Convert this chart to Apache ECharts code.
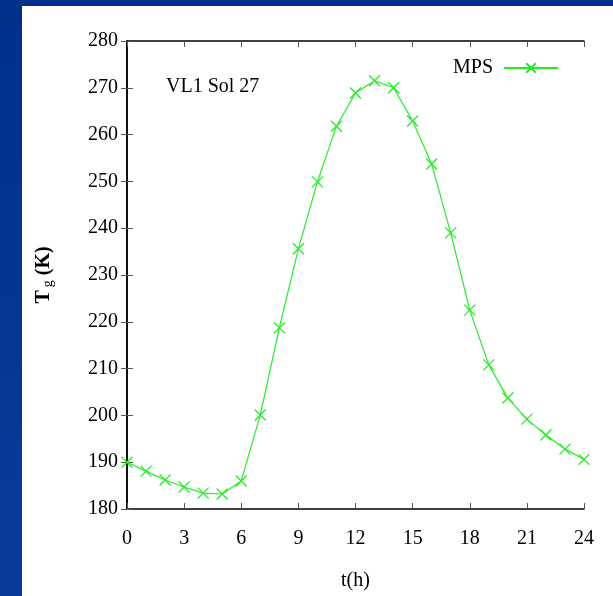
<!DOCTYPE html>
<html><head><meta charset="utf-8">
<script src="https://cdn.jsdelivr.net/npm/echarts@6/dist/echarts.min.js"></script>
<style>html,body{margin:0;padding:0;background:#0a3290;}#c{width:613px;height:596px;}</style>
</head><body><div id="c"></div>
<script>
const hours = [0,1,2,3,4,5,6,7,8,9,10,11,12,13,14,15,16,17,18,19,20,21,22,23,24];
const tempMPS = [190.0,188.1,186.2,184.7,183.4,183.2,186.0,200.1,218.7,235.6,249.9,261.8,268.9,271.5,270.0,262.9,253.7,239.0,222.5,210.8,203.7,199.2,195.8,192.8,190.6];
const seriesName = 'MPS';
const annotation = 'VL1 Sol 27';
const xTitle = 't(h)';

const chart = echarts.init(document.getElementById('c'));
const font = '"Liberation Serif","Times New Roman",serif';
const xMark = 'path://M0,0L10,10M10,0L0,10';
const green = '#22ee22';
chart.setOption({
  animation:false,
  backgroundColor:'transparent',
  graphic:[
    {type:'rect',left:0,top:0,shape:{width:613,height:596},style:{fill:new echarts.graphic.LinearGradient(0,0,0,1,[{offset:0,color:'#00308c'},{offset:1,color:'#0a3a9c'}])},z:-10},
    {type:'rect',left:22,top:6,shape:{width:591,height:590},style:{fill:'#ffffff'},z:-9},
    {type:'text',left:166,top:77,style:{text:annotation,font:'20px '+font,fill:'#000'}}
  ],
  grid:{left:127,right:29,top:41,bottom:87},
  legend:{right:49,top:53,align:'right',itemWidth:54,itemHeight:12,itemGap:10,
    textStyle:{fontFamily:font,fontSize:20,color:'#000',padding:[0,6,0,0]},data:[seriesName]},
  xAxis:[
    {type:'value',min:0,max:24,interval:3,
     name:xTitle,nameLocation:'middle',nameGap:62,nameTextStyle:{fontFamily:font,fontSize:20,color:'#000'},
     axisLine:{onZero:false,lineStyle:{color:'#000',width:1.5}},
     axisTick:{inside:true,length:6,lineStyle:{color:'#555'}},
     axisLabel:{margin:20,fontFamily:font,fontSize:20,color:'#000'},
     splitLine:{show:false}},
    {type:'value',min:0,max:24,interval:3,position:'top',
     axisLine:{lineStyle:{color:'#000',width:1.5}},
     axisTick:{inside:true,length:6,lineStyle:{color:'#555'}},
     axisLabel:{show:false},splitLine:{show:false}}
  ],
  yAxis:[
    {type:'value',min:180,max:280,interval:10,
     name:'{t|T}{g|g}{t| (K)}',nameLocation:'middle',nameRotate:90,nameGap:72,
     nameTextStyle:{rich:{t:{fontFamily:font,fontSize:20,fontWeight:'bold',color:'#000'},
                          g:{fontFamily:font,fontSize:14,color:'#000',padding:[8,0,0,3]}}},
     axisLine:{onZero:false,lineStyle:{color:'#000',width:1.5}},
     axisTick:{inside:true,length:6,lineStyle:{color:'#555'}},
     axisLabel:{margin:9,fontFamily:font,fontSize:20,color:'#000'},
     splitLine:{show:false}},
    {type:'value',min:180,max:280,interval:10,position:'right',
     axisLine:{lineStyle:{color:'#000',width:1.5}},
     axisTick:{inside:true,length:6,lineStyle:{color:'#555'}},
     axisLabel:{show:false},splitLine:{show:false}}
  ],
  series:[{
    name:seriesName,type:'line',
    data:hours.map((h,i)=>[h,tempMPS[i]]),
    symbol:xMark,symbolSize:11,showSymbol:true,
    lineStyle:{color:green,width:1.2},
    itemStyle:{color:'rgba(0,0,0,0)',borderColor:green,borderWidth:1.3},
    clip:false
  }]
});
</script></body></html>
